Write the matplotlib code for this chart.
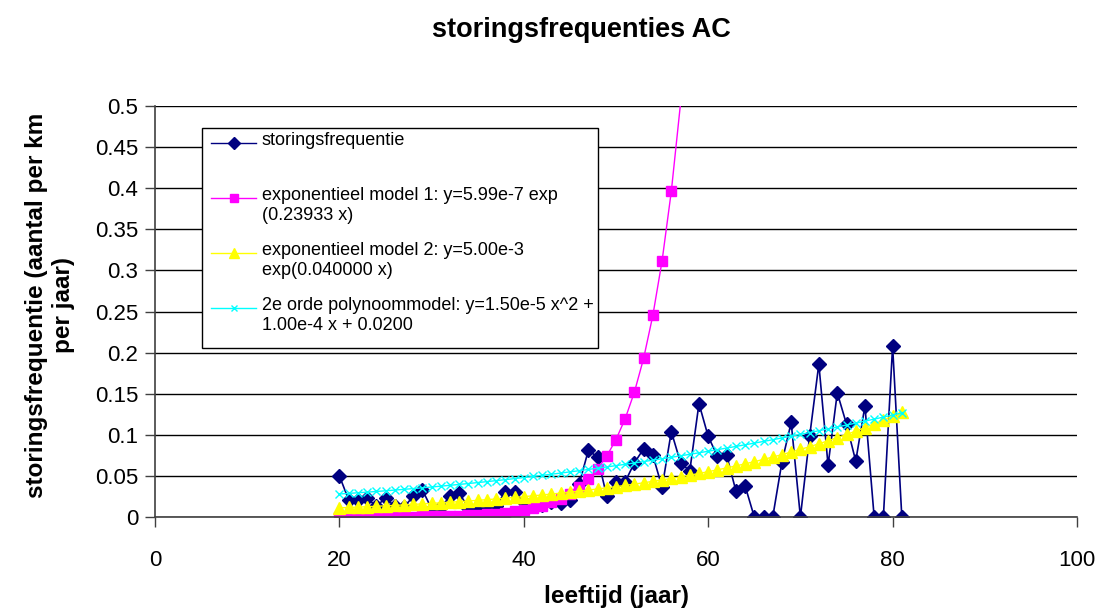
import numpy as np
import matplotlib.pyplot as plt
from matplotlib.patches import Rectangle
from matplotlib.lines import Line2D

plt.rcParams['font.family'] = ['Liberation Sans', 'DejaVu Sans']

# leeftijd (jaar) 20..81
years = list(range(20, 82))

# gemeten storingsfrequentie
freq = [0.050, 0.021, 0.021, 0.023, 0.013, 0.023, 0.013, 0.012, 0.025, 0.033,
        0.010, 0.012, 0.025, 0.029, 0.011, 0.012, 0.012, 0.013, 0.031, 0.031,
        0.018, 0.016, 0.015, 0.018, 0.017, 0.021, 0.040, 0.081, 0.073, 0.025,
        0.043, 0.043, 0.066, 0.083, 0.075, 0.036, 0.104, 0.066, 0.056, 0.138,
        0.098, 0.074, 0.075, 0.032, 0.038, 0.0, 0.0, 0.0, 0.067, 0.115,
        0.0, 0.098, 0.186, 0.063, 0.151, 0.113, 0.068, 0.135, 0.0, 0.0,
        0.208, 0.0]

# exponentieel model 1 (20..57)
years_m1 = list(range(20, 58))
model1 = [7.18e-5, 9.12e-5, 1.159e-4, 1.472e-4, 1.870e-4, 2.376e-4, 3.018e-4,
          3.834e-4, 4.871e-4, 6.188e-4, 7.86e-4, 9.99e-4, 1.269e-3, 1.612e-3,
          2.048e-3, 2.601e-3, 3.305e-3, 4.198e-3, 5.333e-3, 6.775e-3, 8.61e-3,
          0.01094, 0.01389, 0.01765, 0.02242, 0.02848, 0.03618, 0.04597,
          0.05840, 0.07419, 0.09425, 0.1197, 0.1521, 0.1932, 0.2455, 0.3118,
          0.3962, 0.5033]

# exponentieel model 2 (20..81)
model2 = [0.01113, 0.01158, 0.01205, 0.01254, 0.01306, 0.01359, 0.01414, 0.01472,
          0.01532, 0.01594, 0.01660, 0.01727, 0.01798, 0.01871, 0.01947, 0.02028,
          0.02110, 0.02196, 0.02286, 0.02379, 0.02477, 0.02577, 0.02683, 0.02792,
          0.02906, 0.03025, 0.03148, 0.03277, 0.03410, 0.03550, 0.03695, 0.03845,
          0.04002, 0.04166, 0.04336, 0.04513, 0.04697, 0.04888, 0.05088, 0.05296,
          0.05512, 0.05737, 0.05971, 0.06214, 0.06468, 0.06732, 0.07007, 0.07293,
          0.07590, 0.07900, 0.08222, 0.08558, 0.08907, 0.09270, 0.09649, 0.10042,
          0.10452, 0.10879, 0.11323, 0.11785, 0.12266, 0.12766]

# 2e orde polynoommodel (20..81)
model3 = [0.0280, 0.02872, 0.02946, 0.03024, 0.03104, 0.03188, 0.03274, 0.03364,
          0.03456, 0.03552, 0.0365, 0.03752, 0.03856, 0.03964, 0.04074, 0.04188,
          0.04304, 0.04424, 0.04546, 0.04672, 0.0480, 0.04932, 0.05066, 0.05204,
          0.05344, 0.05488, 0.05634, 0.05784, 0.05936, 0.06092, 0.0625, 0.06412,
          0.06576, 0.06744, 0.06914, 0.07088, 0.07264, 0.07444, 0.07626, 0.07812,
          0.0800, 0.08192, 0.08386, 0.08584, 0.08784, 0.08988, 0.09194, 0.09404,
          0.09616, 0.09832, 0.1005, 0.10272, 0.10496, 0.10724, 0.10954, 0.11188,
          0.11424, 0.11664, 0.11906, 0.12152, 0.1240, 0.12652]

labels = ['storingsfrequentie',
          'exponentieel model 1: y=5.99e-7 exp\n(0.23933 x)',
          'exponentieel model 2: y=5.00e-3\nexp(0.040000 x)',
          '2e orde polynoommodel: y=1.50e-5 x^2 +\n1.00e-4 x + 0.0200']

y_ticks = [0, 0.05, 0.1, 0.15, 0.2, 0.25, 0.3, 0.35, 0.4, 0.45, 0.5]
y_ticklabels = ['0', '0.05', '0.1', '0.15', '0.2', '0.25', '0.3', '0.35', '0.4', '0.45', '0.5']
x_ticks = [0, 20, 40, 60, 80, 100]

W, H = 1101, 609


def fx(px):
    return px / W


def fy(py):
    return 1 - py / H


fig = plt.figure(figsize=(W / 100, H / 100), dpi=100)
ax = fig.add_axes([fx(155), fy(517), fx(1077) - fx(155), fy(106) - fy(517)])

styles = [dict(color='#000080', marker='D', markersize=7),
          dict(color='#FF00FF', marker='s', markersize=7),
          dict(color='#FFFF00', marker='^', markersize=8),
          dict(color='#00FFFF', marker='x', markersize=6, markeredgewidth=1)]

ax.plot(years, freq, lw=1.2, **styles[0])
m1_visible = [v <= 0.5 for v in model1]
ax.plot(years_m1, model1, lw=1.0, markevery=m1_visible, **styles[1])
ax.plot(years, model2, lw=1.0, **styles[2])
ax.plot(years, model3, lw=1.0, **styles[3])

ax.set_xlim(0, 100)
ax.set_ylim(0, 0.5)
ax.set_xticks(x_ticks)
ax.set_yticks(y_ticks)
ax.set_yticklabels(y_ticklabels)
ax.tick_params(labelsize=16, length=7, width=1, direction='out', color='#404040')
ax.tick_params(axis='x', pad=17)
ax.tick_params(axis='y', pad=5)
ax.yaxis.grid(True, color='black', lw=1)
ax.set_axisbelow(True)
for s in ['top', 'right']:
    ax.spines[s].set_visible(False)
for s in ['left', 'bottom']:
    ax.spines[s].set_color('#404040')
    ax.spines[s].set_linewidth(1.2)

fig.text(fx(581), fy(30), 'storingsfrequenties AC', ha='center', va='center',
         fontsize=19.5, fontweight='bold')
fig.text(fx(616), fy(597), 'leeftijd (jaar)', ha='center', va='center',
         fontsize=17.5, fontweight='bold')
fig.text(fx(50), fy(305), 'storingsfrequentie (aantal per km\nper jaar)', ha='center',
         va='center', rotation=90, fontsize=17.5, fontweight='bold', linespacing=1.2)

# legenda
fig.patches.append(Rectangle((fx(202), fy(348)), fx(598) - fx(202), fy(128) - fy(348),
                             transform=fig.transFigure, facecolor='white',
                             edgecolor='black', lw=1, zorder=5))
rows = [143, 198, 253, 308]
for st, lab, ry in zip(styles, labels, rows):
    fig.add_artist(Line2D([fx(211), fx(256)], [fy(ry), fy(ry)], color=st['color'], lw=1,
                          transform=fig.transFigure, zorder=6))
    fig.add_artist(Line2D([fx(233.5)], [fy(ry)], color=st['color'], marker=st['marker'],
                          markersize=st['markersize'] - 1, markeredgewidth=st.get('markeredgewidth', 1),
                          transform=fig.transFigure, zorder=6))
    fig.text(fx(262), fy(ry - 11), lab, ha='left', va='top', fontsize=13,
             linespacing=1.25, zorder=7)

fig.savefig('out.png', dpi=100)
